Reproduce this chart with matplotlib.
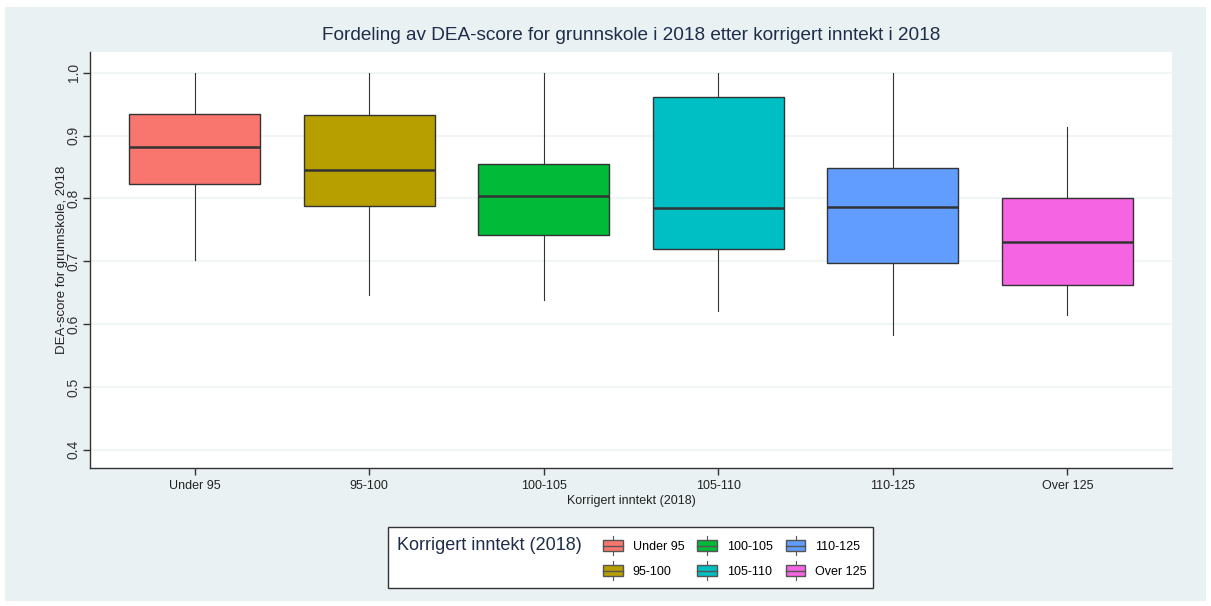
import matplotlib
matplotlib.use("Agg")
import matplotlib.pyplot as plt
from matplotlib.patches import Rectangle
from matplotlib.legend_handler import HandlerBase
from matplotlib.lines import Line2D

categories = ["Under 95", "95-100", "100-105", "105-110", "110-125", "Over 125"]
whislo = [0.702, 0.646, 0.639, 0.621, 0.583, 0.614]
q1 = [0.823, 0.788, 0.742, 0.720, 0.697, 0.662]
med = [0.882, 0.846, 0.804, 0.785, 0.787, 0.731]
q3 = [0.935, 0.932, 0.855, 0.962, 0.849, 0.801]
whishi = [1.0, 1.0, 1.0, 1.0, 1.0, 0.914]
colors = ["#F8766D", "#B79F00", "#00BA38", "#00BFC4", "#619CFF", "#F564E3"]
yticks = [0.4, 0.5, 0.6, 0.7, 0.8, 0.9, 1.0]

plt.rcParams['font.family'] = ['Liberation Sans', 'DejaVu Sans']
W, H = 1211, 606
fig = plt.figure(figsize=(W / 100, H / 100), dpi=100)
fig.patch.set_facecolor("white")
bg = "#E9F1F3"
fig.patches.append(Rectangle((5 / W, 5 / H), (W - 10) / W, (H - 12) / H,
                             transform=fig.transFigure, facecolor=bg,
                             edgecolor="none", zorder=-10))

ax = fig.add_axes([90 / W, 1 - 468 / H, (1172 - 90) / W, (468 - 52) / H])
ax.set_facecolor("white")

stats = []
for i, c in enumerate(categories):
    stats.append(dict(label=c, whislo=whislo[i], q1=q1[i], med=med[i],
                      q3=q3[i], whishi=whishi[i], fliers=[]))
bp = ax.bxp(stats, positions=range(len(categories)), widths=0.75,
            patch_artist=True, showcaps=False,
            boxprops=dict(edgecolor="#333333", linewidth=1.0),
            medianprops=dict(color="#333333", linewidth=1.8),
            whiskerprops=dict(color="#333333", linewidth=0.8))
for patch, col in zip(bp["boxes"], colors):
    patch.set_facecolor(col)

ax.set_xlim(-0.60, 5.6)
ax.set_ylim(0.371, 1.033)
ax.set_yticks(yticks)
ax.set_yticklabels([f"{v:.1f}" for v in yticks], rotation=90, va="center",
                   fontsize=10, color="#333333")
ax.set_xticks(range(len(categories)))
ax.set_xticklabels(categories, fontsize=9, color="#222222")
ax.grid(axis="y", color="#EEF3F3", linewidth=1.2)
ax.set_axisbelow(True)
for s in ["top", "right"]:
    ax.spines[s].set_visible(False)
for s in ["left", "bottom"]:
    ax.spines[s].set_color("#333333")
    ax.spines[s].set_linewidth(1.0)
ax.tick_params(axis="both", color="#333333", length=5, width=1)
ax.tick_params(axis="y", pad=1.5)
ax.set_xlabel("Korrigert inntekt (2018)", fontsize=9, labelpad=2, color="#222222")
ax.set_ylabel("DEA-score for grunnskole, 2018", fontsize=9.5, color="#222222", labelpad=-1)
fig.text(631 / W, 1 - 36 / H, "Fordeling av DEA-score for grunnskole i 2018 etter korrigert inntekt i 2018",
         ha="center", va="center", fontsize=13.7, color="#1F2D4A")


class BoxHandler(HandlerBase):
    def __init__(self, color):
        super().__init__()
        self.color = color

    def create_artists(self, legend, orig_handle, xdescent, ydescent, width, height, fontsize, trans):
        x0, y0 = -xdescent, -ydescent
        cx = x0 + width / 2
        rect = Rectangle((x0, y0), width, height, facecolor=self.color,
                         edgecolor="#555555", linewidth=1.0, transform=trans)
        ln = Line2D([x0, x0 + width], [y0 + height / 2] * 2, color="#555555", lw=1.0, transform=trans)
        w1 = Line2D([cx, cx], [y0 + height, y0 + height * 1.35], color="#555555", lw=0.8, transform=trans)
        w2 = Line2D([cx, cx], [y0, y0 - height * 0.35], color="#555555", lw=0.8, transform=trans)
        return [w1, w2, rect, ln]


handles = [Rectangle((0, 0), 1, 1) for _ in categories]
hmap = {h: BoxHandler(c) for h, c in zip(handles, colors)}
fig.patches.append(Rectangle((388 / W, 1 - 588 / H), (873 - 388) / W, (588 - 527) / H,
                             transform=fig.transFigure, facecolor="white",
                             edgecolor="#333333", linewidth=1.0, zorder=1))
fig.text(397 / W, 1 - 546 / H, "Korrigert inntekt (2018)", ha="left", va="center",
         fontsize=13, color="#1F2D4A", zorder=3)
leg = fig.legend(handles, categories, handler_map=hmap, ncol=3,
                 loc="center", bbox_to_anchor=(735 / W, 1 - 559 / H),
                 frameon=False, fontsize=9, handlelength=1.55, handleheight=1.0,
                 columnspacing=1.05, labelspacing=0.95, handletextpad=0.8)
leg.set_zorder(3)

fig.savefig("out.png", dpi=100, facecolor=fig.get_facecolor())
